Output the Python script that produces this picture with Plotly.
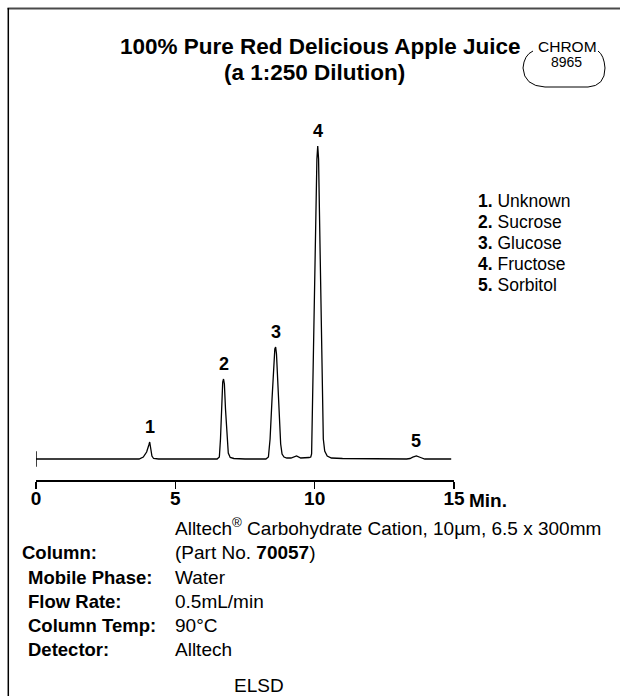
import plotly.graph_objects as go

# ---------------- data ----------------
time_min = [0.00, 3.70, 3.85, 3.97, 4.05, 4.08, 4.12, 4.16, 4.22, 4.40,
            6.50, 6.58, 6.62, 6.66, 6.70, 6.73, 6.76, 6.80, 6.85, 6.90, 6.97, 7.10, 7.50,
            8.25, 8.34, 8.40, 8.47, 8.53, 8.57, 8.60, 8.63, 8.68, 8.73, 8.78, 8.83, 8.90,
            9.00, 9.15, 9.35, 9.50, 9.80, 9.86,
            9.89, 9.95, 10.02, 10.08, 10.11, 10.14, 10.20, 10.26, 10.31, 10.36, 10.45, 10.60, 11.00,
            13.30, 13.42, 13.52, 13.65, 13.80, 13.95, 14.90]
signal = [0.0, 0.0, 2.0, 7.0, 14.0, 17.0, 10.0, 3.0, 0.5, 0.0,
          0.0, 2.0, 20.0, 55.0, 77.0, 80.0, 75.0, 50.0, 20.0, 6.0, 1.5, 0.5, 0.0,
          0.0, 2.0, 20.0, 60.0, 95.0, 110.0, 112.0, 105.0, 75.0, 40.0, 15.0, 5.0, 2.0,
          1.0, 1.0, 3.0, 1.0, 1.5, 2.0,
          5.0, 100.0, 220.0, 300.0, 313.0, 300.0, 200.0, 100.0, 20.0, 8.0, 3.0, 1.0, 0.5,
          0.0, 0.5, 1.8, 3.0, 1.5, 0.0, 0.0]

peak_numbers = ["1", "2", "3", "4", "5"]
peak_times = [4.08, 6.73, 8.60, 10.11, 13.65]
peak_heights = [17.0, 80.0, 112.0, 313.0, 3.0]
peak_names = ["Unknown", "Sucrose", "Glucose", "Fructose", "Sorbitol"]

x_ticks = [0, 5, 10, 15]

title_lines = ["100% Pure Red Delicious Apple Juice", "(a 1:250 Dilution)"]
cond_labels = ["Column:", "Mobile Phase:", "Flow Rate:", "Column Temp:", "Detector:"]
cond_values = ["Alltech<sup>®</sup> Carbohydrate Cation, 10µm, 6.5 x 300mm",
               "(Part No. <b>70057</b>)", "Water", "0.5mL/min", "90°C", "Alltech", "ELSD"]

# ---------------- layout helpers ----------------
W, H = 620, 696
ML, MR, MT, MB = 36, 166, 100, 216
PW, PH = W - ML - MR, H - MT - MB
FONT = "Liberation Sans, Arial, Helvetica, sans-serif"


def px(x):
    return (x - ML) / PW


def py(y):
    return (H - MB - y) / PH


fig = go.Figure()
fig.add_trace(go.Scatter(x=time_min, y=signal, mode="lines",
                         line=dict(color="black", width=1.3), hoverinfo="skip"))
# start marker at t=0
fig.add_trace(go.Scatter(x=time_min[:1], y=signal[:1], mode="markers",
                         marker=dict(symbol="line-ns", size=11,
                                     line=dict(color="black", width=1.5)),
                         hoverinfo="skip"))

ann = []
for n, t, h in zip(peak_numbers, peak_times, peak_heights):
    ann.append(dict(x=t, y=h, xref="x", yref="y", text=f"<b>{n}</b>", showarrow=False,
                    yanchor="bottom", yshift=3, font=dict(size=18, color="black", family=FONT)))

# Min. label
ann.append(dict(x=px(467), y=py(500), xref="paper", yref="paper", text="<b>Min.</b>",
                showarrow=False, xanchor="left", yanchor="middle",
                font=dict(size=19, color="black", family=FONT)))

# title
ann.append(dict(x=px(320), y=py(47), xref="paper", yref="paper", text=f"<b>{title_lines[0]}</b>",
                showarrow=False, xanchor="center", yanchor="middle",
                font=dict(size=22.5, color="black", family=FONT)))
ann.append(dict(x=px(314), y=py(72), xref="paper", yref="paper", text=f"<b>{title_lines[1]}</b>",
                showarrow=False, xanchor="center", yanchor="middle",
                font=dict(size=22.5, color="black", family=FONT)))
# CHROM badge
ann.append(dict(x=px(567), y=py(47), xref="paper", yref="paper", text="CHROM",
                showarrow=False, xanchor="center", yanchor="middle",
                font=dict(size=15.5, color="black", family=FONT)))
ann.append(dict(x=px(566), y=py(62), xref="paper", yref="paper", text="8965",
                showarrow=False, xanchor="center", yanchor="middle",
                font=dict(size=14, color="black", family=FONT)))

# legend list
for i, (n, name) in enumerate(zip(peak_numbers, peak_names)):
    ann.append(dict(x=px(476), y=py(201 + 21 * i), xref="paper", yref="paper",
                    text=f"<b>{n}.</b> {name}", showarrow=False, xanchor="left", yanchor="middle",
                    font=dict(size=17.5, color="black", family=FONT)))

# conditions
label_pos = [(20, 552), (26, 577), (26, 601), (26, 625), (26, 649)]
for lab, (x, y) in zip(cond_labels, label_pos):
    ann.append(dict(x=px(x), y=py(y), xref="paper", yref="paper", text=f"<b>{lab}</b>",
                    showarrow=False, xanchor="left", yanchor="middle",
                    font=dict(size=18.5, color="black", family=FONT)))
value_pos = [(173, 527), (173, 552), (173, 577), (173, 601), (173, 625), (173, 649), (232, 685)]
for val, (x, y) in zip(cond_values, value_pos):
    ann.append(dict(x=px(x), y=py(y), xref="paper", yref="paper", text=val,
                    showarrow=False, xanchor="left", yanchor="middle",
                    font=dict(size=19, color="black", family=FONT)))

shapes = [
    dict(type="line", xref="paper", yref="paper", x0=px(7.5), x1=px(621), y0=py(8.5), y1=py(8.5),
         line=dict(color="#4a4a4a", width=2)),
    dict(type="line", xref="paper", yref="paper", x0=px(8.3), x1=px(8.3), y0=py(8), y1=py(697),
         line=dict(color="black", width=1.5)),
    dict(type="path", xref="paper", yref="paper",
         path=(f"M {px(533)} {py(51)} Q {px(524)} {py(55)} {px(523)} {py(68)} "
               f"Q {px(524)} {py(86)} {px(545)} {py(87)} L {px(588)} {py(87)} "
               f"Q {px(605)} {py(86)} {px(605)} {py(68)} Q {px(604)} {py(55)} {px(598)} {py(51)}"),
         line=dict(color="black", width=1)),
]

fig.update_layout(
    width=W, height=H, margin=dict(l=ML, r=MR, t=MT, b=MB),
    paper_bgcolor="white", plot_bgcolor="white", showlegend=False,
    annotations=ann, shapes=shapes,
    xaxis=dict(range=[0, 15], tickvals=x_ticks, ticktext=[f"<b>{v}</b>" for v in x_ticks],
               showline=True, linecolor="black", linewidth=1.5, ticks="outside", ticklen=7,
               tickwidth=1.5, tickcolor="black", showgrid=False, zeroline=False,
               ticklabelstandoff=-6,
               tickfont=dict(size=19, color="black", family=FONT)),
    yaxis=dict(range=[-21, 359], visible=False, showgrid=False, zeroline=False),
)

fig.write_html("out.html", config={"displayModeBar": False, "staticPlot": True},
               post_script="document.body.style.margin='0px';document.body.style.overflow='hidden';")
